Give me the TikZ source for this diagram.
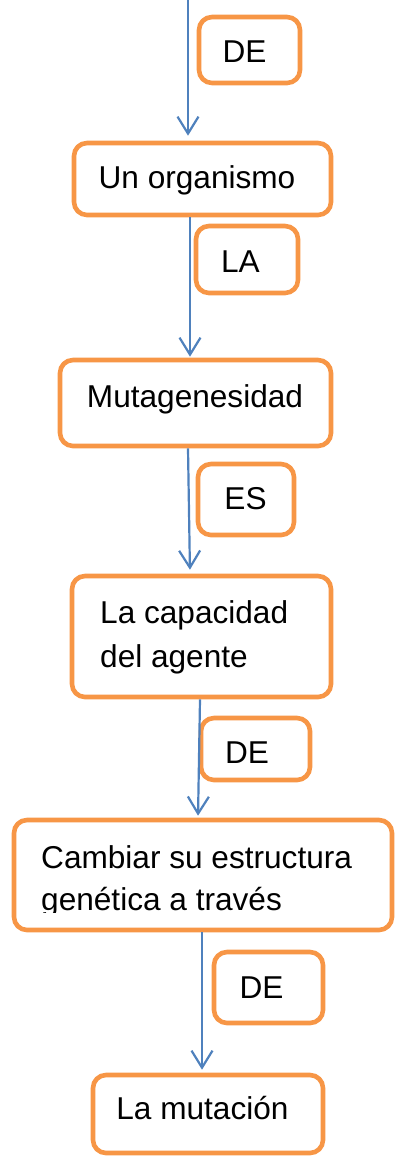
\documentclass[tikz,border=0pt]{standalone}
\usepackage{fontspec}
\setmainfont{Liberation Sans}
\usetikzlibrary{arrows.meta}
\definecolor{boxorange}{HTML}{F79646}
\definecolor{linkblue}{HTML}{4F81BD}
\begin{document}
\begin{tikzpicture}[x=1pt,y=-1pt,
  box/.style={draw=boxorange,line width=4.6pt,rounded corners=13pt,rectangle,inner sep=0pt,fill=white},
  txt/.style={font=\fontsize{31.6}{43}\selectfont,inner sep=0pt,anchor=base,text=black},
  txtl/.style={txt,anchor=base west},
  link/.style={draw=linkblue,line width=2.2pt,-{Straight Barb[length=17pt,width=21pt]}}]
\useasboundingbox (0,0) rectangle (394,1157);

% boxes
\node[box,minimum width=101pt,minimum height=66pt] (d1) at (249.5,50) {};
\node[box,minimum width=257pt,minimum height=72pt] (b1) at (202.5,179) {};
\node[box,minimum width=102pt,minimum height=67pt] (l2) at (247,259.5) {};
\node[box,minimum width=271pt,minimum height=86pt] (b2) at (195.5,403) {};
\node[box,minimum width=96pt,minimum height=71pt] (l3) at (246,499.5) {};
\node[box,minimum width=259pt,minimum height=121pt] (b3) at (201.5,636.5) {};
\node[box,minimum width=109pt,minimum height=62pt] (l4) at (255.5,749) {};
\node[box,minimum width=378pt,minimum height=110pt] (b4) at (203,875) {};
\node[box,minimum width=109pt,minimum height=71pt] (l5) at (268.5,987.5) {};
\node[box,minimum width=230pt,minimum height=78pt] (b5) at (208,1114) {};

% texts
\node[txt] (d1t) at (244.5,62) {DE};
\node[txt] (b1t) at (197,188) {Un organismo};
\node[txt] (l2t) at (240.5,272) {LA};
\node[txt] (b2t) at (195,407) {Mutagenesidad};
\node[txt] (l3t) at (245.5,509) {ES};
\node[txtl] (b3ta) at (100,623) {La capacidad};
\node[txtl] (b3tb) at (100,667) {del agente};
\node[txt] (l4t) at (247,763) {DE};
\begin{scope}
  \clip (20,830) rectangle (390,912);
  \node[txtl] (b4ta) at (41,868) {Cambiar su estructura};
  \node[txtl] (b4tb) at (41,910) {genética a través};
\end{scope}
\node[txt] (l5t) at (261.5,998) {DE};
\node[txt] (b5t) at (202.5,1119) {La mutación};

% connectors
\coordinate (start) at (188,0);
\draw[link,shorten >=5pt] (start) -- (start |- b1.north);
\draw[link,shorten >=1pt] (190,0 |- b1.south) -- (190,0 |- b2.north);
\draw[link,shorten >=4pt] (188,0 |- b2.south) -- (190,0 |- b3.north);
\draw[link,shorten >=2pt] (200,0 |- b3.south) -- (198,0 |- b4.north);
\draw[link,shorten >=3pt] (202,0 |- b4.south) -- (202,0 |- b5.north);
\end{tikzpicture}
\end{document}
